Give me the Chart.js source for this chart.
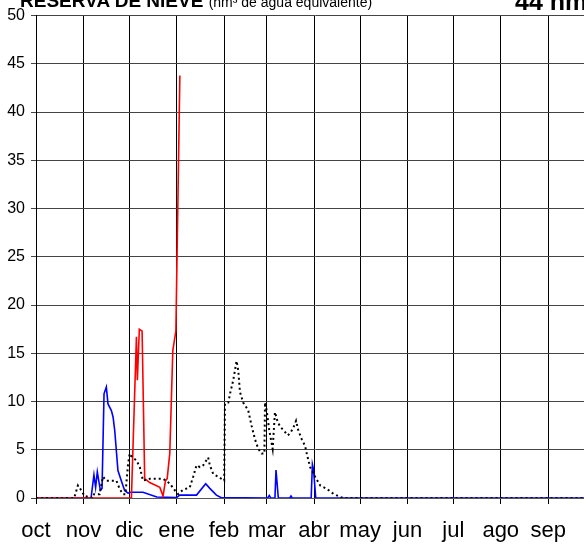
<!DOCTYPE html>
<html><head><meta charset="utf-8">
<script src="https://cdn.jsdelivr.net/npm/chart.js@4.4.1/dist/chart.umd.min.js"></script>
<style>
html,body{margin:0;padding:0;background:#fff;overflow:hidden;width:584px;height:544px;position:relative;}
#wrap{position:absolute;left:0;top:0;width:594px;height:544px;}
.t{position:absolute;font-family:"Liberation Sans",Arial,sans-serif;color:#000;white-space:nowrap;line-height:1;}
</style></head><body>
<div id="wrap"><canvas id="c"></canvas></div>
<div class="t" style="left:20px;top:-9px;font-size:19px;font-weight:bold;">RESERVA DE NIEVE <span style="font-size:14px;font-weight:normal;">(hm³ de agua equivalente)</span></div>
<div class="t" style="left:515px;top:-11px;font-size:25px;font-weight:bold;">44 hm³</div>
<script>
const monthLabels = ['oct','nov','dic','ene','feb','mar','abr','may','jun','jul','ago','sep'];
const monthStartDays = [0,31,61,92,123,151,182,212,243,273,304,335];
const yTickValues = [0,5,10,15,20,25,30,35,40,45,50];

// current season (red)
const redDays   = [0,62.4,65.7,66.3,67.6,69.4,71.1,74.4,81,83.1,84.7,85.8,87.5,89.5,91.5,94.1];
const redValues = [0,0,16.7,12.2,17.5,17.3,2.0,1.6,1.1,0.2,1.8,2.0,4.6,15.3,17.3,43.8];

// previous season (blue)
const blueDays   = [0,36,37.9,39,40.1,42.1,43.2,44.5,46,47.1,49.3,50.4,51.5,53.6,55.8,58,60.2,62,70,79,92,94,105,111,113.7,118,121,151.5,152.6,153.5,156.3,157,158.5,166,166.8,167.6,180,180.8,181.5,183,365];
const blueValues = [0,0,2.4,1.1,2.7,0.8,1.0,10.8,11.5,9.75,9.06,8.4,7.0,2.85,1.8,0.78,0.5,0.6,0.6,0.1,0.05,0.3,0.3,1.47,1.0,0.3,0.05,0,0.25,0,0,2.9,0,0,0.2,0,0,3.5,3.0,0,0];

// mean (black dotted)
const blackDays   = [0,25,27.4,29.6,31.8,37,38,41.6,43.8,46,52.6,54.7,56.9,58.5,60.2,61.3,63,65.7,67.9,70,74.4,78.8,83.1,87.5,90.8,93,96.2,100.6,102.8,105,107.2,109.4,112.6,113.7,115.9,119.2,123.1,123.6,125.8,126.9,129,131.2,132.3,133.4,135.5,138.8,141,143.2,145.4,147.6,149.4,149.8,150.9,152.6,154.8,156.3,157.9,159.6,161.8,164.7,166.2,168.4,170.1,171.6,173.8,176,177.1,179.3,182.6,185.9,190.2,194.6,199,201,365];
const blackValues = [0,0,1.3,0.8,0.2,0,0.4,0.4,2.2,1.8,1.8,0.95,0.4,0.4,3.5,4.6,4.2,3.9,3.2,1.8,2.0,2.0,2.0,1.5,0.8,0.4,0.85,1.1,2.2,3.4,3.2,3.4,4.2,3.4,2.5,2.2,1.8,9.8,9.9,10.8,12.2,14.2,13.2,11.0,9.9,9.1,7.5,6.1,5.1,4.6,4.6,9.9,9.06,7.0,5.1,8.9,8.0,7.4,7.05,6.5,6.7,7.3,8.0,7.0,6.1,5.4,4.6,3.2,2.2,1.3,0.95,0.43,0.1,0,0];

const toXY = (xs, ys) => xs.map((x, i) => ({x: x, y: ys[i]}));

new Chart(document.getElementById('c'), {
  type: 'line',
  data: {
    datasets: [
      {label:'media', data: toXY(blackDays, blackValues), borderColor:'#000', borderWidth:2, borderDash:[2,3], pointRadius:0, tension:0, fill:false},
      {label:'actual', data: toXY(redDays, redValues), borderColor:'#ff0000', borderWidth:1.6, pointRadius:0, tension:0, fill:false},
      {label:'anterior', data: toXY(blueDays, blueValues), borderColor:'#0000ff', borderWidth:1.6, pointRadius:0, tension:0, fill:false}
    ]
  },
  options: {
    responsive: true,
    maintainAspectRatio: false,
    animation: false,
    layout: {padding: {top: 14, right: 0, bottom: 0, left: 0}},
    plugins: {legend: {display: false}, tooltip: {enabled: false}, title: {display: false}},
    scales: {
      x: {
        type: 'linear', min: 0, max: 365,
        afterBuildTicks: s => { s.ticks = monthStartDays.map(v => ({value: v})); },
        afterFit: s => { s.height = 46; },
        ticks: {
          autoSkip: false, maxRotation: 0, padding: 14, color: '#000',
          font: {family: '"Liberation Sans", Arial, sans-serif', size: 22},
          callback: v => monthLabels[monthStartDays.indexOf(v)]
        },
        grid: {color: '#000', lineWidth: 1, tickLength: 6, drawTicks: true},
        border: {color: '#555', width: 1}
      },
      y: {
        min: 0, max: 50,
        afterBuildTicks: s => { s.ticks = yTickValues.map(v => ({value: v})); },
        afterFit: s => { s.width = 36; },
        ticks: {
          padding: 6, color: '#000',
          font: {family: '"Liberation Sans", Arial, sans-serif', size: 16}
        },
        grid: {color: '#444', lineWidth: 1, tickLength: 5, drawTicks: true},
        border: {color: '#000', width: 1}
      }
    }
  }
});
</script>
</body></html>
